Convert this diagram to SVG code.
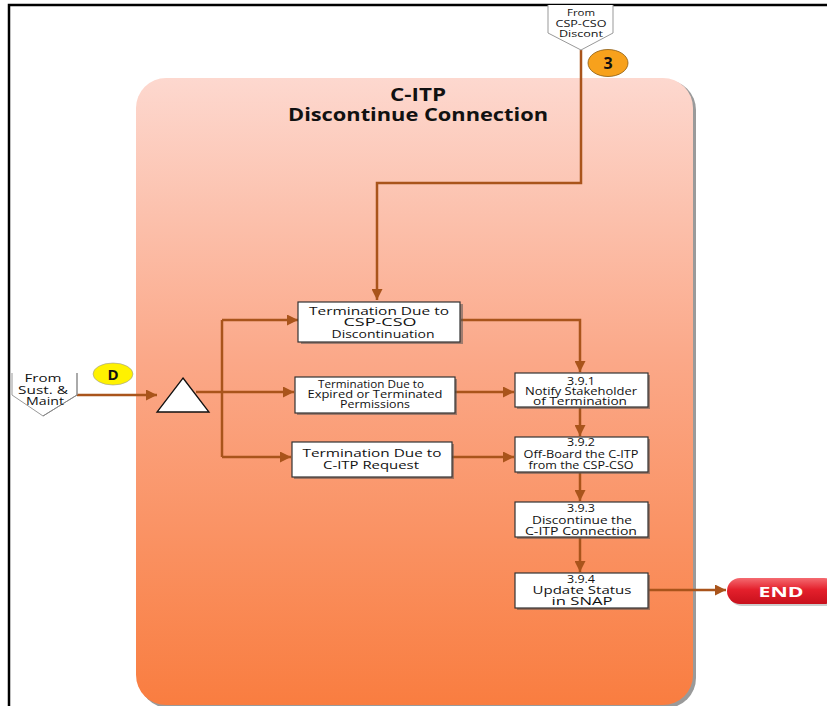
<svg xmlns="http://www.w3.org/2000/svg" width="827" height="706" viewBox="0 0 827 706">
  <defs>
    <linearGradient id="panelFill" x1="0" y1="0" x2="0" y2="1">
      <stop offset="0" stop-color="#FDD8CF"/>
      <stop offset="0.45" stop-color="#FBA888"/>
      <stop offset="1" stop-color="#F97D40"/>
    </linearGradient>
    <linearGradient id="endFill" x1="0" y1="0" x2="0" y2="1">
      <stop offset="0" stop-color="#F46A70"/>
      <stop offset="0.45" stop-color="#E4202C"/>
      <stop offset="1" stop-color="#C8101C"/>
    </linearGradient>
    <marker id="arrow" viewBox="0 0 10 10" refX="10" refY="5" markerWidth="11" markerHeight="11" markerUnits="userSpaceOnUse" orient="auto">
      <path d="M0,0 L10,5 L0,10 z" fill="#A9541B"/>
    </marker>
  </defs>
  <style>
    .frame { fill: none; stroke: #000; stroke-width: 2.5; }
    .conn { fill: none; stroke: #A9541B; stroke-width: 2.5; }
    .box { fill: #fff; stroke: #333; stroke-width: 1.2; }
    .shadow { fill: #555; opacity: 0.55; }
    .t { font-family: "Open Sans", "Liberation Sans", sans-serif; fill: #111; text-anchor: middle; }
    .title { font-family: "Open Sans", "Liberation Sans", sans-serif; font-weight: bold; font-size: 17px; fill: #111; text-anchor: middle; }
    .offpage { fill: #fff; stroke: #999; stroke-width: 1; }
  </style>

  <rect width="827" height="706" fill="#fff"/>
  <!-- page frame -->
  <path class="frame" d="M9,706 V5 H827"/>

  <!-- swimlane panel -->
  <g id="panel">
    <rect x="139" y="80" width="557" height="628" rx="30" fill="#9a9a9a"/>
    <rect x="136" y="78" width="557" height="627" rx="30" fill="url(#panelFill)"/>
    <text class="title" x="418" y="101" textLength="56" lengthAdjust="spacingAndGlyphs">C-ITP</text>
    <text class="title" x="418" y="121" textLength="260" lengthAdjust="spacingAndGlyphs">Discontinue Connection</text>
  </g>

  <!-- connectors -->
  <g id="connectors">
    <path class="conn" d="M581,50 V183 H377 V300" marker-end="url(#arrow)"/>
    <path class="conn" d="M77,395 H157" marker-end="url(#arrow)"/>
    <path class="conn" d="M196,392 H222"/>
    <path class="conn" d="M222,320 V457"/>
    <path class="conn" d="M222,320 H298" marker-end="url(#arrow)"/>
    <path class="conn" d="M222,392 H294" marker-end="url(#arrow)"/>
    <path class="conn" d="M222,457 H291" marker-end="url(#arrow)"/>
    <path class="conn" d="M461,320 H580 V372" marker-end="url(#arrow)"/>
    <path class="conn" d="M455,392 H514" marker-end="url(#arrow)"/>
    <path class="conn" d="M452,457 H514" marker-end="url(#arrow)"/>
    <path class="conn" d="M580,408 V436" marker-end="url(#arrow)"/>
    <path class="conn" d="M580,473 V501" marker-end="url(#arrow)"/>
    <path class="conn" d="M580,538 V572" marker-end="url(#arrow)"/>
    <path class="conn" d="M649,590 H726" marker-end="url(#arrow)"/>
  </g>

  <!-- off-page connector from CSP-CSO discontinuation -->
  <g id="from-csp-cso">
    <path class="offpage" d="M548,5 V33 L581,50 L613,33 V5"/>
    <text class="t" x="581" y="16" font-size="9.5" textLength="28" lengthAdjust="spacingAndGlyphs">From</text>
    <text class="t" x="581" y="26.5" font-size="9.5" textLength="51" lengthAdjust="spacingAndGlyphs">CSP-CSO</text>
    <text class="t" x="581" y="37" font-size="9.5" textLength="44" lengthAdjust="spacingAndGlyphs">Discont</text>
  </g>

  <g id="marker-3">
    <ellipse cx="608" cy="63" rx="20" ry="13.5" fill="#F7A11C" stroke="#8A5A10" stroke-width="0.8"/>
    <text x="608" y="69" font-family="Open Sans, Liberation Sans, sans-serif" font-weight="bold" font-size="16" text-anchor="middle" fill="#111">3</text>
  </g>

  <!-- off-page connector from sustainment & maintenance -->
  <g id="from-sust-maint">
    <path class="offpage" d="M12,373 V395 L43,416 L77,395 V373" stroke="#bbb"/>
    <path d="M77,373 V395 L43,416" fill="none" stroke="#888" stroke-width="1"/>
    <text class="t" x="43" y="382" font-size="11" textLength="37" lengthAdjust="spacingAndGlyphs">From</text>
    <text class="t" x="43" y="393.5" font-size="11" textLength="50" lengthAdjust="spacingAndGlyphs">Sust. &amp;</text>
    <text class="t" x="45" y="405" font-size="11" textLength="38" lengthAdjust="spacingAndGlyphs">Maint</text>
  </g>

  <g id="marker-d">
    <ellipse cx="113" cy="374" rx="20" ry="11" fill="#FFF200" stroke="#999" stroke-width="0.6"/>
    <text x="113" y="380" font-family="Open Sans, Liberation Sans, sans-serif" font-weight="bold" font-size="15" text-anchor="middle" fill="#111">D</text>
  </g>

  <g id="merge">
    <path d="M183,378 L209,412 L157,412 z" fill="#fff" stroke="#111" stroke-width="1.3"/>
  </g>

  <g id="term-csp-cso">
    <rect class="shadow" x="301" y="304" width="162" height="40"/>
    <rect class="box" x="298" y="302" width="162" height="40"/>
    <text class="t" x="379" y="314.5" font-size="11.5" textLength="140" lengthAdjust="spacingAndGlyphs">Termination Due to</text>
    <text class="t" x="380" y="326" font-size="11.5" textLength="73" lengthAdjust="spacingAndGlyphs">CSP-CSO</text>
    <text class="t" x="383" y="337.5" font-size="11.5" textLength="103" lengthAdjust="spacingAndGlyphs">Discontinuation</text>
  </g>

  <g id="term-expired">
    <rect class="shadow" x="297" y="379" width="160" height="36"/>
    <rect class="box" x="295" y="377" width="160" height="36"/>
    <text class="t" x="371" y="387.5" font-size="10" textLength="106" lengthAdjust="spacingAndGlyphs">Termination Due to</text>
    <text class="t" x="375" y="397.5" font-size="10" textLength="135" lengthAdjust="spacingAndGlyphs">Expired or Terminated</text>
    <text class="t" x="375" y="407.5" font-size="10" textLength="70" lengthAdjust="spacingAndGlyphs">Permissions</text>
  </g>

  <g id="term-request">
    <rect class="shadow" x="294" y="444" width="160" height="35"/>
    <rect class="box" x="292" y="442" width="160" height="35"/>
    <text class="t" x="372" y="457" font-size="11.5" textLength="139" lengthAdjust="spacingAndGlyphs">Termination Due to</text>
    <text class="t" x="371" y="468.5" font-size="11.5" textLength="96" lengthAdjust="spacingAndGlyphs">C-ITP Request</text>
  </g>

  <g id="step-3-9-1">
    <rect class="shadow" x="517" y="375" width="133" height="34"/>
    <rect class="box" x="515" y="373" width="133" height="34"/>
    <text class="t" x="581" y="384.5" font-size="10" textLength="28" lengthAdjust="spacingAndGlyphs">3.9.1</text>
    <text class="t" x="581" y="394.5" font-size="10" textLength="112" lengthAdjust="spacingAndGlyphs">Notify Stakeholder</text>
    <text class="t" x="580" y="404.5" font-size="10" textLength="94" lengthAdjust="spacingAndGlyphs">of  Termination</text>
  </g>

  <g id="step-3-9-2">
    <rect class="shadow" x="517" y="439" width="133" height="35"/>
    <rect class="box" x="515" y="437" width="133" height="35"/>
    <text class="t" x="581" y="446" font-size="10" textLength="28" lengthAdjust="spacingAndGlyphs">3.9.2</text>
    <text class="t" x="581" y="457.5" font-size="10" textLength="115" lengthAdjust="spacingAndGlyphs">Off-Board the C-ITP</text>
    <text class="t" x="581" y="468.5" font-size="10" textLength="105" lengthAdjust="spacingAndGlyphs">from the CSP-CSO</text>
  </g>

  <g id="step-3-9-3">
    <rect class="shadow" x="517" y="504" width="133" height="35"/>
    <rect class="box" x="515" y="502" width="133" height="35"/>
    <text class="t" x="581" y="512" font-size="10" textLength="28" lengthAdjust="spacingAndGlyphs">3.9.3</text>
    <text class="t" x="582" y="523.5" font-size="10" textLength="100" lengthAdjust="spacingAndGlyphs">Discontinue the</text>
    <text class="t" x="581" y="534.5" font-size="10" textLength="112" lengthAdjust="spacingAndGlyphs">C-ITP Connection</text>
  </g>

  <g id="step-3-9-4">
    <rect class="shadow" x="517" y="575" width="133" height="35"/>
    <rect class="box" x="515" y="573" width="133" height="35"/>
    <text class="t" x="581" y="582.5" font-size="10" textLength="28" lengthAdjust="spacingAndGlyphs">3.9.4</text>
    <text class="t" x="582" y="593.5" font-size="10" textLength="99" lengthAdjust="spacingAndGlyphs">Update Status</text>
    <text class="t" x="582" y="604.5" font-size="10" textLength="61" lengthAdjust="spacingAndGlyphs">in SNAP</text>
  </g>

  <g id="end">
    <rect x="729" y="580" width="110" height="26" rx="13" fill="#999" opacity="0.5"/>
    <rect x="727" y="578" width="110" height="26" rx="13" fill="url(#endFill)"/>
    <text x="781" y="597" font-family="Open Sans, Liberation Sans, sans-serif" font-weight="bold" font-size="15" text-anchor="middle" fill="#fff" textLength="45" lengthAdjust="spacingAndGlyphs">END</text>
  </g>
</svg>
